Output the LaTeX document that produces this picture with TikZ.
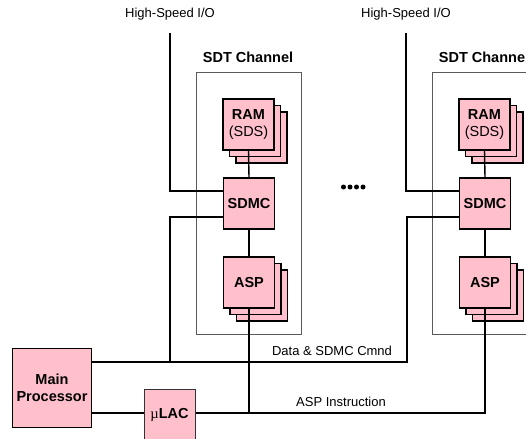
\documentclass[tikz,border=0pt]{standalone}
\usepackage{fontspec}
\setmainfont{Liberation Sans}
\newfontfamily\greekfont{Liberation Serif}
\usetikzlibrary{positioning,calc}
\definecolor{unitPink}{RGB}{255,192,203}
\tikzset{
    unit/.style={
        ,   rectangle
        ,   draw=black
        ,   fill=unitPink
        ,   line width=1.4pt
        ,   minimum width=51pt
        ,   minimum height=51pt
        ,   inner sep=0pt
        ,   align=center
        ,   font=\fontsize{14.5pt}{17.5pt}\selectfont\bfseries
    },
    wire/.style={
        ,   line width=1.4pt
        ,   draw=black
    },
    channel/.style={
        ,   draw=black!65
        ,   line width=0.9pt
    },
    tag/.style={
        ,   inner sep=0pt
        ,   font=\fontsize{13pt}{15pt}\selectfont
    }
}
\begin{document}
\begin{tikzpicture}[x=1pt, y=-1pt]
\useasboundingbox (0,0) rectangle (526,438);

\foreach \c/\dx in {1/0, 2/236}{
  % channel frame and title
  \draw[channel] (196+\dx,72) rectangle (301+\dx,334.5);
  \node[tag, font=\fontsize{14.5pt}{16pt}\selectfont\bfseries] (title\c) at (248+\dx,57) {SDT Channel};
  \node[tag] (hsio\c) at (170+\dx,14) {High-Speed I/O};
  \coordinate (hsTop\c) at (170+\dx,33);
  % stacked memories and processors
  \foreach \s in {13,6.5}{
    \node[unit] at (248.5+\dx+\s,124.5+\s) {};
    \node[unit] at (249+\dx+\s,282.5+\s) {};
  }
  \node[unit] (ram\c) at (248.5+\dx,124.5) {RAM\\{\mdseries(SDS)}};
  \node[unit] (sdmc\c) at (249+\dx,203.5) {SDMC};
  \node[unit] (asp\c) at (249+\dx,282.5) {ASP};
  \draw[wire] (ram\c.south) -- (sdmc\c.north);
  \draw[wire] (sdmc\c.south) -- (asp\c.north);
  \draw[wire] (hsTop\c) |- ([yshift=12.5pt]sdmc\c.west);
}

\node[unit, minimum width=79pt, minimum height=79pt] (main) at (52,388) {Main\\Processor};
\node[unit, line width=1pt, draw=black!80] (mulac) at (169.5,414.5) {{\greekfont\mdseries µ}LAC};

% data and command bus
\coordinate (dataL) at (170,362);
\coordinate (dataR) at (407,362);
\draw[wire] ([yshift=-13.5pt]sdmc1.west) -| (dataL);
\draw[wire] (main.east |- dataL) -- (dataR) |- ([yshift=-13.5pt]sdmc2.west);
\node[tag] (dataLbl) at (332,351) {Data \& SDMC Cmnd};

% instruction bus
\coordinate (instr) at (485,413);
\draw[wire] (main.east |- instr) -- (mulac.west |- instr);
\draw[wire] (mulac.east |- instr) -- (instr) -- (asp2.south);
\draw[wire] (asp1.south) -- (asp1.south |- instr);
\node[tag] (instrLbl) at (341,402) {ASP Instruction};

% more channels
\foreach \i in {0,...,3}{
  \fill (343.5+\i*6.5,187) circle (2.5pt);
}
\end{tikzpicture}
\end{document}
